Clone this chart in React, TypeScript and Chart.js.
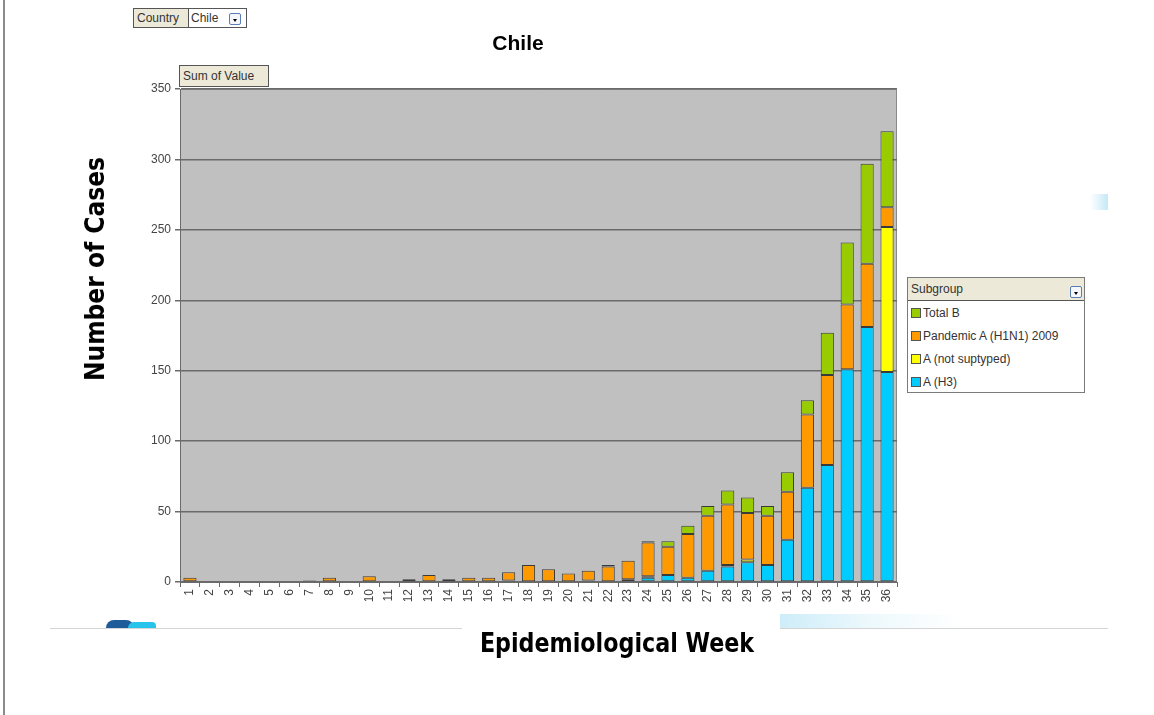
import React, { useEffect, useRef } from "react";
import { Chart, registerables } from "chart.js";

Chart.register(...registerables);

const weeks: string[] = Array.from({ length: 36 }, (_, i) => String(i + 1));

const seriesNames = ["A (H3)", "A (not suptyped)", "Pandemic A (H1N1) 2009", "Total B"];
const seriesColors = ["#00CCFF", "#FFFF00", "#FF9900", "#99CC00"];

const h3 = [0, 0, 0, 0, 0, 0, 0, 0, 0, 0, 0, 0, 0, 0, 0, 0, 1, 0, 0, 0, 1, 0, 2, 3, 5, 3, 8, 11, 14, 12, 30, 67, 83, 151, 181, 149];
const notSubtyped = [0, 0, 0, 0, 0, 0, 0, 0, 0, 0, 0, 0, 0, 0, 0, 0, 0, 0, 0, 0, 0, 0, 0, 1, 0, 0, 0, 1, 2, 0, 0, 0, 0, 0, 0, 103];
const h1n1 = [3, 0, 0, 0, 0, 0, 1, 3, 0, 4, 0, 2, 5, 2, 3, 3, 6, 12, 9, 6, 7, 11, 13, 24, 20, 31, 39, 43, 33, 35, 34, 52, 64, 46, 45, 14];
const totalB = [0, 0, 0, 0, 0, 0, 0, 0, 0, 0, 0, 0, 0, 0, 0, 0, 0, 0, 0, 0, 0, 1, 0, 1, 4, 6, 7, 10, 11, 7, 14, 10, 30, 44, 71, 54];

const seriesValues = [h3, notSubtyped, h1n1, totalB];

const yTicks = [0, 50, 100, 150, 200, 250, 300, 350];

const plotAreaPlugin = {
  id: "plotArea",
  beforeDraw(chart: any) {
    const { ctx, chartArea } = chart;
    const { left, top, right, bottom } = chartArea;
    ctx.save();
    ctx.fillStyle = "#C0C0C0";
    ctx.fillRect(left, top, right - left, bottom - top);
    ctx.strokeStyle = "#8a8a8a";
    ctx.lineWidth = 1;
    ctx.beginPath();
    ctx.moveTo(left, top + 0.5);
    ctx.lineTo(right - 0.5, top + 0.5);
    ctx.lineTo(right - 0.5, bottom);
    ctx.stroke();
    ctx.restore();
  },
};

const narrowBold = '"Liberation Sans Narrow", "DejaVu Sans Condensed", "Arial Narrow", Arial, sans-serif';
const uiFont = 'Arial, "Liberation Sans", sans-serif';

function DropBtn({ left, top }: { left: number; top: number }) {
  return (
    <div
      style={{
        position: "absolute",
        left,
        top,
        width: 12,
        height: 12,
        border: "1px solid #5a7db5",
        background: "#f4f6fa",
        boxSizing: "border-box",
        borderRadius: 2,
      }}
    >
      <div
        style={{
          position: "absolute",
          left: 3,
          top: 5,
          width: 0,
          height: 0,
          borderLeft: "2.5px solid transparent",
          borderRight: "2.5px solid transparent",
          borderTop: "3px solid #000",
        }}
      />
    </div>
  );
}

export default function App() {
  const canvasRef = useRef<HTMLCanvasElement | null>(null);

  useEffect(() => {
    document.body.style.margin = "0";
    const canvas = canvasRef.current;
    if (!canvas) return;
    const chart = new Chart(canvas, {
      type: "bar",
      data: {
        labels: weeks,
        datasets: seriesNames.map((name, i) => ({
          label: name,
          data: seriesValues[i].map((v) => (v === 0 ? null : v)),
          backgroundColor: seriesColors[i],
          borderColor: "#3a3a3a",
          borderWidth: 1,
          borderSkipped: false,
          categoryPercentage: 1,
          barPercentage: 0.66,
        })),
      },
      options: {
        animation: false,
        responsive: false,
        devicePixelRatio: 1,
        layout: { padding: { left: 0, top: 89, right: 257, bottom: 0 } },
        plugins: {
          legend: { display: false },
          title: { display: false },
          tooltip: { enabled: false },
        },
        scales: {
          x: {
            stacked: true,
            offset: true,
            afterFit(scale: any) {
              scale.height = 133;
            },
            grid: {
              offset: true,
              drawOnChartArea: false,
              drawTicks: true,
              tickLength: 5,
              color: "#6a6a6a",
            },
            border: { display: true, color: "#6a6a6a", width: 1 },
            ticks: {
              autoSkip: false,
              maxRotation: 90,
              minRotation: 90,
              padding: 2,
              color: "#444",
              font: { family: uiFont, size: 12 },
            },
          },
          y: {
            stacked: true,
            min: 0,
            max: 350,
            afterFit(scale: any) {
              scale.width = 180;
            },
            afterBuildTicks(scale: any) {
              scale.ticks = yTicks.map((v) => ({ value: v }));
            },
            grid: {
              color: "#6a6a6a",
              lineWidth: 1.5,
              drawTicks: true,
              tickLength: 5,
              tickColor: "#6a6a6a",
            },
            border: { display: true, color: "#6a6a6a", width: 1 },
            ticks: {
              padding: 4,
              color: "#444",
              font: { family: uiFont, size: 12 },
            },
          },
        },
      },
      plugins: [plotAreaPlugin],
    });
    return () => chart.destroy();
  }, []);

  const legendOrder = [3, 2, 1, 0];

  return (
    <div
      style={{
        position: "absolute",
        left: 0,
        top: 0,
        width: 1154,
        height: 715,
        overflow: "hidden",
        background: "#fff",
        fontFamily: uiFont,
      }}
    >
      {/* slide border on the left */}
      <div style={{ position: "absolute", left: 3, top: 0, width: 2, height: 715, background: "#8c8c8c" }} />
      {/* faint decoration near bottom */}
      <div style={{ position: "absolute", left: 50, top: 628, width: 1058, height: 1, background: "#d4d4d4" }} />
      <div
        style={{
          position: "absolute",
          left: 780,
          top: 614,
          width: 180,
          height: 14,
          background: "linear-gradient(to right, rgba(200,235,248,0.9), rgba(225,244,251,0.6), rgba(255,255,255,0))",
        }}
      />
      <div style={{ position: "absolute", left: 462, top: 616, width: 318, height: 30, background: "#fff" }} />
      <div
        style={{
          position: "absolute",
          left: 106,
          top: 620,
          width: 28,
          height: 8,
          borderRadius: "14px 14px 0 0",
          background: "#1f5a99",
        }}
      />
      <div
        style={{
          position: "absolute",
          left: 128,
          top: 622,
          width: 28,
          height: 6,
          background: "#28c3ec",
          borderRadius: "6px 4px 0 0",
        }}
      />
      <div
        style={{
          position: "absolute",
          left: 1090,
          top: 194,
          width: 18,
          height: 16,
          background: "linear-gradient(to right, rgba(190,230,245,0), rgba(190,230,245,0.9))",
        }}
      />

      <canvas
        ref={canvasRef}
        width={1154}
        height={715}
        style={{ position: "absolute", left: 0, top: 0, width: 1154, height: 715 }}
      />

      {/* Country filter */}
      <div
        style={{
          position: "absolute",
          left: 133,
          top: 8,
          width: 56,
          height: 20,
          background: "#ECE9D8",
          border: "1px solid #555",
          boxSizing: "border-box",
          fontSize: 12,
          color: "#333",
          lineHeight: "18px",
          paddingLeft: 3,
        }}
      >
        Country
      </div>
      <div
        style={{
          position: "absolute",
          left: 188,
          top: 8,
          width: 59,
          height: 20,
          background: "#fff",
          border: "1px solid #555",
          boxSizing: "border-box",
          fontSize: 12,
          color: "#333",
          lineHeight: "18px",
          paddingLeft: 2,
        }}
      >
        Chile
      </div>
      <DropBtn left={229} top={13} />

      {/* Title */}
      <div
        style={{
          position: "absolute",
          left: 518,
          top: 43,
          transform: "translate(-50%, -50%)",
          fontWeight: "bold",
          fontSize: 21,
          color: "#000",
          whiteSpace: "nowrap",
        }}
      >
        Chile
      </div>

      {/* Sum of Value */}
      <div
        style={{
          position: "absolute",
          left: 179,
          top: 65,
          width: 90,
          height: 22,
          background: "#ECE9D8",
          border: "1px solid #555",
          boxSizing: "border-box",
          fontSize: 12,
          color: "#333",
          lineHeight: "20px",
          paddingLeft: 3,
          whiteSpace: "nowrap",
        }}
      >
        Sum of Value
      </div>

      {/* Y axis title */}
      <div
        style={{
          position: "absolute",
          left: 95,
          top: 269,
          transform: "translate(-50%, -50%) rotate(-90deg)",
          fontFamily: narrowBold,
          fontWeight: "bold",
          fontSize: 26,
          letterSpacing: 0,
          color: "#000",
          whiteSpace: "nowrap",
        }}
      >
        Number of Cases
      </div>

      {/* X axis title */}
      <div
        style={{
          position: "absolute",
          left: 617,
          top: 643,
          transform: "translate(-50%, -50%) scaleX(0.95)",
          fontFamily: narrowBold,
          fontWeight: "bold",
          fontSize: 26,
          color: "#000",
          whiteSpace: "nowrap",
        }}
      >
        Epidemiological Week
      </div>

      {/* Legend */}
      <div
        style={{
          position: "absolute",
          left: 907,
          top: 277,
          width: 178,
          height: 116,
          border: "1px solid #7a7a7a",
          background: "#fff",
          boxSizing: "border-box",
        }}
      >
        <div
          style={{
            height: 22,
            background: "#ECE9D8",
            borderBottom: "1px solid #555",
            fontSize: 12,
            color: "#333",
            lineHeight: "22px",
            paddingLeft: 3,
            position: "relative",
          }}
        >
          Subgroup
          <DropBtn left={162} top={8} />
        </div>
        {legendOrder.map((idx, k) => (
          <div
            key={idx}
            style={{
              position: "absolute",
              left: 3,
              top: 26 + k * 23,
              height: 18,
              display: "flex",
              alignItems: "center",
              fontSize: 12,
              color: "#333",
              whiteSpace: "nowrap",
            }}
          >
            <span
              style={{
                display: "inline-block",
                width: 8,
                height: 8,
                background: seriesColors[idx],
                border: "1px solid #555",
                marginRight: 2,
              }}
            />
            {seriesNames[idx]}
          </div>
        ))}
      </div>
    </div>
  );
}
